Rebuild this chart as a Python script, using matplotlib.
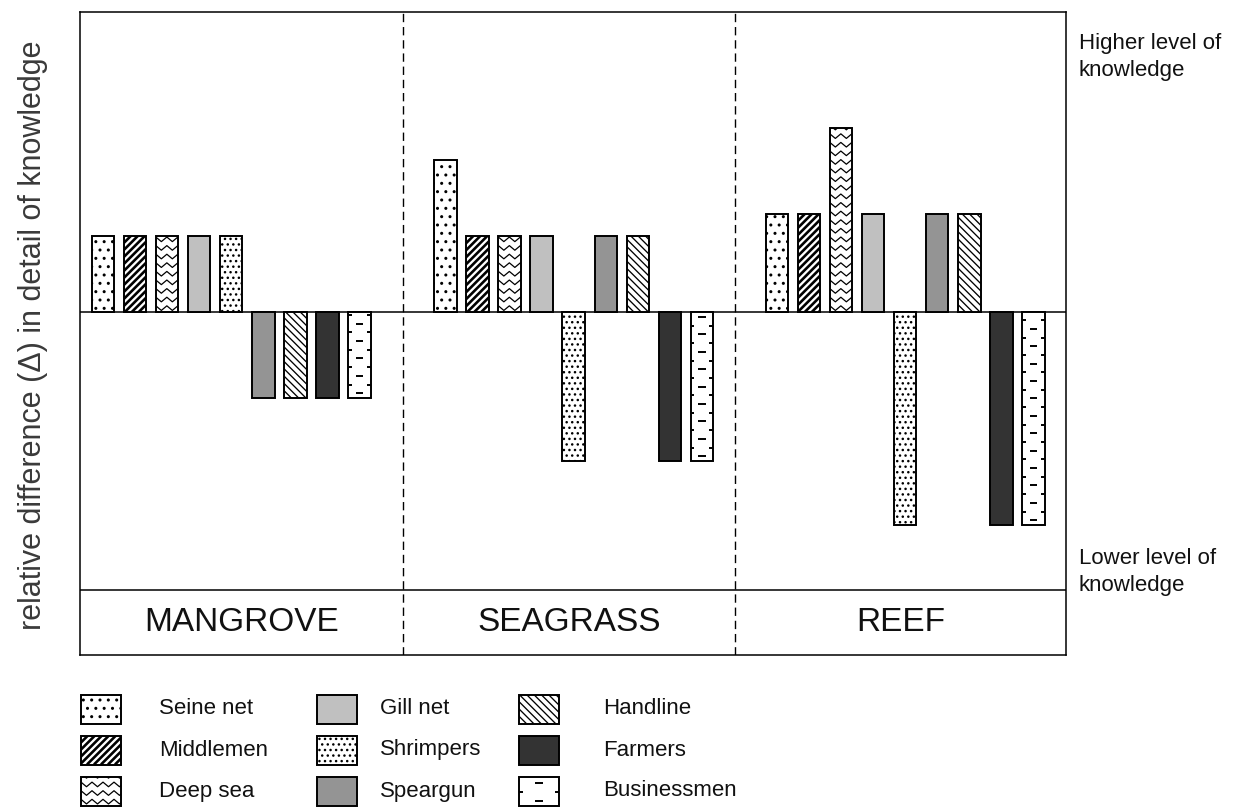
import matplotlib
matplotlib.use('Agg')
import matplotlib.pyplot as plt
from matplotlib.patches import Rectangle
from matplotlib.lines import Line2D
import numpy as np

plt.rcParams['font.family'] = ['Liberation Sans', 'DejaVu Sans']

# ---------------- data ----------------
habitats = ['MANGROVE', 'SEAGRASS', 'REEF']
groups = ['Seine net', 'Middlemen', 'Deep sea', 'Gill net', 'Shrimpers',
          'Speargun', 'Handline', 'Farmers', 'Businessmen']
mangrove = [7.6, 7.6, 7.6, 7.6, 7.6, -8.6, -8.6, -8.6, -8.6]
seagrass = [15.2, 7.6, 7.6, 7.6, -14.9, 7.6, 7.6, -14.9, -14.9]
reef = [9.8, 9.8, 18.4, 9.8, -21.3, 9.8, 9.8, -21.3, -21.3]
values = [mangrove, seagrass, reef]
ylabel = 'relative difference (\u0394) in detail of knowledge'
top_note = 'Higher level of\nknowledge'
bottom_note = 'Lower level of\nknowledge'

# ---------------- styles ----------------
STYLES = {
    'Seine net':   dict(fc='white', hatch='..'),
    'Middlemen':   dict(fc='white', custom='diag', dir=1, sp=7.0, lw=1.9),
    'Deep sea':    dict(fc='white', custom='zigzag'),
    'Gill net':    dict(fc='#c0c0c0'),
    'Shrimpers':   dict(fc='white', hatch='...'),
    'Speargun':    dict(fc='#949494'),
    'Handline':    dict(fc='white', custom='diag', dir=-1, sp=7.3, lw=0.95),
    'Farmers':     dict(fc='#333333'),
    'Businessmen': dict(fc='white', custom='dashes'),
}

W, H = 1233, 811
fig = plt.figure(figsize=(W / 100, H / 100), dpi=100)
ax = fig.add_axes([80 / W, 1 - 655 / H, 986 / W, 643 / H])

# layout in slot units
slot_px = 32.05
xmax = 986 / slot_px
group_start = [23 / slot_px, 365.5 / slot_px, 697 / slot_px]
dividers = [323 / slot_px, 655 / slot_px]
bar_w = 22.5 / slot_px
y_top, y_band, y_bottom = 30.0, -27.8, -34.3

ax.set_xlim(0, xmax)
ax.set_ylim(y_bottom, y_top)
kx = xmax / 986.0                # data units per pixel (x)
ky = (y_top - y_bottom) / 643.0  # data units per pixel (y)


def add_clipped(a, p, xs, ys, lw):
    ln = Line2D(xs, ys, color='black', lw=lw, zorder=4, solid_capstyle='butt')
    a.add_line(ln)
    ln.set_clip_path(p)


def overlay(a, p, name, kx, ky):
    st = STYLES[name]
    custom = st.get('custom')
    if not custom:
        return
    x0, y0 = p.get_x(), p.get_y()
    w, h = p.get_width(), p.get_height()
    if h < 0:
        y0, h = y0 + h, -h
    if custom == 'zigzag':
        step = 5.5 * kx
        amp = 2.3 * ky
        gap = 8.6 * ky
        n = int(w / step) + 4
        xs = x0 - step + np.arange(n) * step
        yy = y0 + gap * 0.45
        while yy < y0 + h + gap:
            ys = yy + amp * np.where(np.arange(n) % 2 == 0, -1, 1)
            add_clipped(a, p, xs, ys, 0.9)
            yy += gap
    elif custom == 'dashes':
        gap = 8.7 * ky
        dl = 7.5 * kx
        k = 0
        yy = y0 + gap * 0.55
        while yy < y0 + h:
            if k % 2 == 0:
                segs = [(x0 + w / 2 - dl / 2, x0 + w / 2 + dl / 2)]
            else:
                segs = [(x0 - dl / 2, x0 + dl / 2), (x0 + w - dl / 2, x0 + w + dl / 2)]
            for s0, s1 in segs:
                add_clipped(a, p, [s0, s1], [yy, yy], 1.4)
            yy += gap
            k += 1
    elif custom == 'diag':
        wp, hp = w / kx, h / ky
        L = wp + hp + 2
        sp = st['sp']
        if st['dir'] > 0:
            cs = np.arange(-hp - sp, wp + sp, sp)
            for c in cs:
                add_clipped(a, p, [x0 + c * kx, x0 + (c + L) * kx], [y0, y0 + L * ky], st['lw'])
        else:
            cs = np.arange(0, wp + hp + 2 * sp, sp)
            for c in cs:
                add_clipped(a, p, [x0 + c * kx, x0 + (c - L) * kx], [y0, y0 + L * ky], st['lw'])


# ---------------- bars ----------------
for g, vals in enumerate(values):
    for i, name in enumerate(groups):
        st = STYLES[name]
        bars = ax.bar(group_start[g] + i, vals[i], width=bar_w, color=st['fc'],
                      edgecolor='black', linewidth=1.4, hatch=st.get('hatch'),
                      zorder=3)
        for p in bars:
            overlay(ax, p, name, kx, ky)

ax.axhline(0, color='black', lw=1.1, zorder=2)
ax.axhline(y_band, color='black', lw=1.1, zorder=2)
for d in dividers:
    ax.axvline(d, color='black', lw=1.0, linestyle=(0, (6, 3.5)), zorder=2)

bounds = [0] + dividers + [xmax]
for g, lab in enumerate(habitats):
    ax.text((bounds[g] + bounds[g + 1]) / 2, (y_band + y_bottom) / 2, lab,
            ha='center', va='center', fontsize=24, color='#111111')

ax.set_xticks([])
ax.set_yticks([])
for s in ax.spines.values():
    s.set_linewidth(1.1)
    s.set_color('black')

fig.text(1079 / W, 1 - 57 / H, top_note, ha='left', va='center', fontsize=16,
         linespacing=1.35, color='#111111')
fig.text(1079 / W, 1 - 572 / H, bottom_note, ha='left', va='center', fontsize=16,
         linespacing=1.35, color='#111111')
fig.text(33 / W, 1 - 335 / H, ylabel, rotation=90, ha='center', va='center',
         fontsize=22, color='#3a3a3a')

# ---------------- legend ----------------
lax = fig.add_axes([0, 0, 1, 1])
lax.set_xlim(0, W)
lax.set_ylim(0, H)
lax.axis('off')
lax.patch.set_visible(False)
box_x = [81, 317, 519]
text_x = [159, 380, 603]
row_y = [709, 750, 791]
bw, bh = 40, 29
for idx, name in enumerate(groups):
    c, r = idx // 3, idx % 3
    st = STYLES[name]
    rect = Rectangle((box_x[c], H - row_y[r] - bh / 2), bw, bh, facecolor=st['fc'],
                     edgecolor='black', linewidth=1.4, hatch=st.get('hatch'))
    lax.add_patch(rect)
    overlay(lax, rect, name, 1.0, 1.0)
    lax.text(text_x[c], H - row_y[r], name, ha='left', va='center', fontsize=16,
             color='#111111')

fig.savefig('out.png', dpi=100)
